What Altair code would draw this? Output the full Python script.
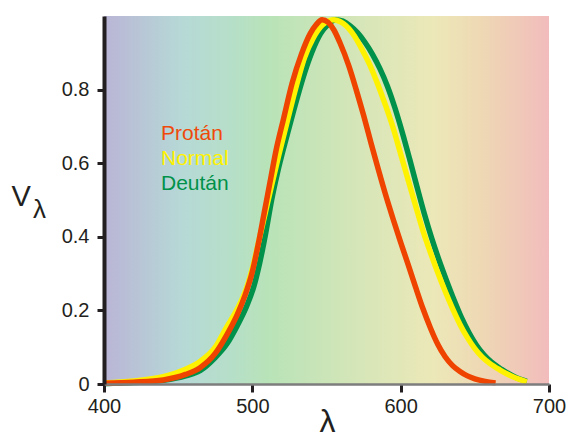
import altair as alt
import pandas as pd

# ---- data ----
series_names = ["Protán", "Normal", "Deután"]

wl_protan = [400, 420, 440, 455, 465, 475, 483, 490, 495, 500, 504, 508, 512, 516, 521, 527, 533,
             539, 543, 547, 551, 555, 559, 565, 570, 575, 580, 585, 590, 595, 600, 605, 610, 615,
             620, 625, 630, 635, 640, 645, 650, 657, 664]
v_protan = [0.002, 0.005, 0.011, 0.026, 0.045, 0.083, 0.135, 0.19, 0.24, 0.305, 0.38, 0.465, 0.55,
            0.635, 0.72, 0.82, 0.895, 0.952, 0.976, 0.99, 0.983, 0.962, 0.928, 0.865, 0.80, 0.73,
            0.655, 0.582, 0.512, 0.447, 0.385, 0.325, 0.264, 0.205, 0.153, 0.108, 0.074, 0.05, 0.034,
            0.022, 0.014, 0.007, 0.003]

wl_normal = [400, 420, 440, 455, 465, 475, 482, 490, 496, 501, 505, 509, 513, 518, 523, 529, 535,
             541, 547, 551, 555, 559, 563, 567, 571, 575, 580, 585, 590, 595, 600, 605, 610, 615,
             620, 625, 630, 635, 640, 645, 650, 655, 660, 667, 676, 685]
v_normal = [0.003, 0.008, 0.02, 0.04, 0.062, 0.10, 0.15, 0.205, 0.26, 0.33, 0.40, 0.47, 0.54, 0.625,
            0.705, 0.80, 0.885, 0.94, 0.975, 0.986, 0.99, 0.985, 0.974, 0.956, 0.931, 0.901, 0.86,
            0.81, 0.755, 0.695, 0.625, 0.555, 0.485, 0.417, 0.358, 0.303, 0.252, 0.205, 0.162,
            0.126, 0.096, 0.073, 0.056, 0.038, 0.019, 0.006]

wl_deutan = [400, 420, 440, 455, 465, 475, 483, 490, 496, 501, 505, 509, 513, 517, 522, 528, 534,
             540, 546, 551, 556, 561, 566, 571, 576, 581, 586, 591, 596, 601, 606, 611, 616, 621,
             626, 631, 636, 641, 646, 651, 656, 661, 668, 677, 685]
v_deutan = [0.001, 0.004, 0.01, 0.022, 0.037, 0.072, 0.11, 0.16, 0.21, 0.265, 0.33, 0.41, 0.50,
            0.575, 0.655, 0.745, 0.83, 0.90, 0.952, 0.977, 0.99, 0.986, 0.973, 0.954, 0.928, 0.896,
            0.857, 0.81, 0.752, 0.685, 0.612, 0.536, 0.462, 0.395, 0.335, 0.28, 0.228, 0.18, 0.14,
            0.106, 0.08, 0.06, 0.04, 0.019, 0.007]

x_ticks = [400, 500, 600, 700]
y_ticks = [0, 0.2, 0.4, 0.6, 0.8]
x_domain = [400, 700]
y_domain = [0, 1.0]

# ---- styles ----
FONT = "Liberation Sans"
INK = "#231f20"
line_colors = {"Protán": "#ef4300", "Normal": "#fff200", "Deután": "#00914a"}
text_colors = {"Protán": "#ef4a0a", "Normal": "#fff200", "Deután": "#00914a"}
spectrum = [(0.0, "#bab5d6"), (0.177, "#b6d9d6"), (0.29, "#b6dfc8"), (0.367, "#b8e3b8"),
            (0.59, "#d8e6b8"), (0.74, "#ece8b8"), (0.85, "#eed8b4"), (1.0, "#f2bcbc")]

xscale = alt.Scale(domain=x_domain, nice=False, zero=False)
yscale = alt.Scale(domain=y_domain, nice=False, zero=False)

x_axis = alt.Axis(values=x_ticks, format="d", title="λ", titleFont=FONT, titleFontSize=32,
                  titleFontWeight="normal", titleColor=INK, titleX=223, titleY=54,
                  titleAlign="center", titleBaseline="bottom",
                  labelFont=FONT, labelFontSize=20, labelColor=INK, labelPadding=4,
                  labelFlush=False, tickColor=INK, tickWidth=3, tickSize=8,
                  domainColor="#7d7d7d", domainWidth=2.5, grid=False, zindex=1)
y_axis = alt.Axis(values=y_ticks, format=".1~f", title="V", titleFont=FONT, titleFontSize=29,
                  titleFontWeight="normal", titleColor=INK, titleAngle=0, titleX=-93, titleY=189,
                  titleAlign="left", titleBaseline="alphabetic",
                  labelFont=FONT, labelFontSize=20, labelColor=INK, labelPadding=8,
                  tickColor=INK, tickWidth=3, tickSize=7,
                  domainColor=INK, domainWidth=4, grid=False, zindex=1)


def xenc(field="wl"):
    return alt.X(f"{field}:Q", scale=xscale, axis=x_axis)


def yenc(field="V"):
    return alt.Y(f"{field}:Q", scale=yscale, axis=y_axis)


bg_df = pd.DataFrame({"wl": [x_domain[0]], "wl_end": [x_domain[1]],
                      "V": [y_domain[0]], "V_end": [y_domain[1]]})
background = alt.Chart(bg_df).mark_rect(
    fill=alt.LinearGradient(gradient="linear",
                            stops=[alt.GradientStop(offset=o, color=c) for o, c in spectrum],
                            x1=0, x2=1, y1=0, y2=0)
).encode(x=xenc(), x2="wl_end:Q", y=yenc(), y2="V_end:Q")

curves = {"Protán": (wl_protan, v_protan), "Normal": (wl_normal, v_normal),
          "Deután": (wl_deutan, v_deutan)}

layers = [background]
for name in ["Deután", "Normal", "Protán"]:
    wl, v = curves[name]
    df = pd.DataFrame({"wl": wl, "V": v, "series": name})
    layers.append(
        alt.Chart(df).mark_line(strokeWidth=5.5, interpolate="monotone", color=line_colors[name])
        .encode(x=xenc(), y=yenc())
    )

# legend-like labels
for i, name in enumerate(series_names):
    layers.append(
        alt.Chart(pd.DataFrame({"label": [name]})).mark_text(
            font=FONT, fontSize=21, align="left", baseline="alphabetic", color=text_colors[name]
        ).encode(x=alt.value(57), y=alt.value(124 + 25 * i), text="label:N")
    )

# subscript lambda of the y title
layers.append(
    alt.Chart(pd.DataFrame({"label": ["λ"]})).mark_text(
        font=FONT, fontSize=26, align="left", baseline="alphabetic", color=INK
    ).encode(x=alt.value(-71), y=alt.value(202), text="label:N")
)

chart = alt.layer(*layers).properties(
    width=445, height=368,
    padding={"left": 104, "top": 16, "right": 20, "bottom": 55},
    autosize=alt.AutoSizeParams(type="none"),
    background="white",
).configure_view(stroke=None)

chart.save("out.html", embed_options={"renderer": "svg", "actions": False})
